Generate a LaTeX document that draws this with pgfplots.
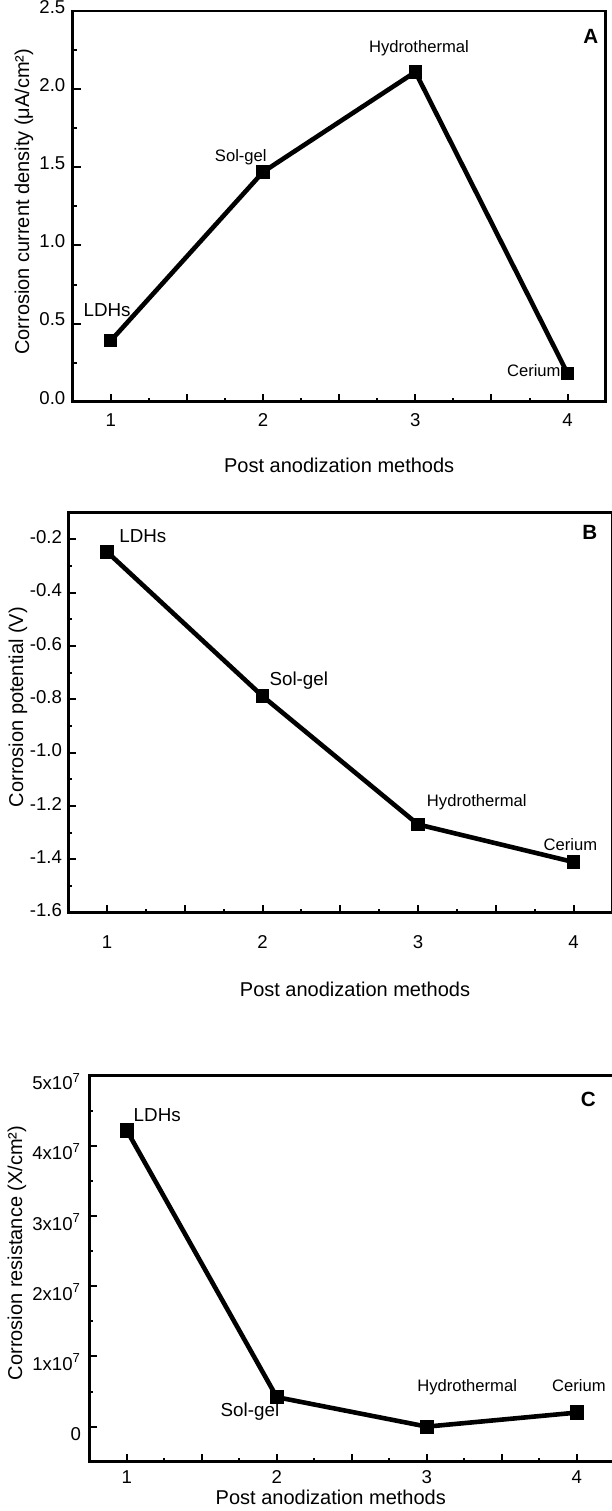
\documentclass[border=0pt]{standalone}
\usepackage{pgfplots}
\pgfplotsset{compat=1.18}
\usepackage{fontspec}
\setmainfont{Liberation Sans}
\newcommand{\lbig}{\fontsize{9.4}{11}\selectfont}
\newcommand{\lsml}{\fontsize{8.3}{10}\selectfont}
\begin{document}
\begin{tikzpicture}
\useasboundingbox (0,0) rectangle (305.5pt,-755.5pt);
\pgfplotsset{
  common/.style={
    scale only axis, clip=false,
    xmin=0.75, xmax=4.25,
    xtick={1,1.5,2,2.5,3,3.5,4}, xticklabels={1,,2,,3,,4},
    minor x tick num=1, minor y tick num=1,
    tick align=inside, xtick pos=left, ytick pos=left,
    major tick length=4pt, minor tick length=2pt,
    every tick/.style={black, line width=1pt},
    axis line style={line width=1.3pt},
    tick label style={font=\fontsize{9.3}{11}\selectfont, inner sep=0pt},
    label style={font=\fontsize{9.4}{11}\selectfont, inner sep=0pt},
    xticklabel style={anchor=base},
    yticklabel style={anchor=base east},
    scaled y ticks=false,
    /pgf/number format/assume math mode=true,
  },
  ser/.style={black, line width=2.3pt, mark=square*, mark size=3.1pt, mark options={line width=0pt}},
}
% ---------------- A ----------------
\begin{axis}[common,
  at={(36.35pt,-200.85pt)}, anchor=south west,
  width=266.5pt, height=195.35pt,
  ymin=0, ymax=2.5,
  ytick={0,0.5,1,1.5,2,2.5}, yticklabels={0.0,0.5,1.0,1.5,2.0,2.5},
  xticklabel style={yshift=-12.5pt},
  yticklabel style={xshift=-3.5pt, yshift=-1.2pt},
  every axis x label/.style={at={(axis description cs:0.5,-0.181)}, anchor=base},
  every axis y label/.style={at={(axis description cs:-0.0916,0.512)}, rotate=90, anchor=center},
  xlabel={Post anodization methods},
  ylabel={Corrosion current density (μA/cm²)},
]
\addplot[ser] coordinates {(1,0.39) (2,1.47) (3,2.11) (4,0.18)};
\node[font=\lbig] at (axis cs:0.976,0.587) {LDHs};
\node[font=\lsml] at (axis cs:1.854,1.567) {Sol-gel};
\node[font=\lsml] at (axis cs:3.024,2.265) {Hydrothermal};
\node[font=\lsml] at (axis cs:3.778,0.198) {Cerium};
\node[font=\fontsize{10.3}{12}\selectfont\bfseries] at (axis cs:4.152,2.335) {A};
\end{axis}
% ---------------- B ----------------
\begin{axis}[common,
  at={(34.1pt,-456.35pt)}, anchor=south west,
  width=272.1pt, height=200pt,
  ymin=-1.6, ymax=-0.1,
  ytick={-1.6,-1.4,-1.2,-1.0,-0.8,-0.6,-0.4,-0.2},
  yticklabels={-1.6,-1.4,-1.2,-1.0,-0.8,-0.6,-0.4,-0.2},
  xticklabel style={yshift=-17.8pt},
  yticklabel style={xshift=-2.9pt, yshift=-2pt},
  every axis x label/.style={at={(axis description cs:0.527,-0.21)}, anchor=base},
  every axis y label/.style={at={(axis description cs:-0.0922,0.514)}, rotate=90, anchor=center},
  xlabel={Post anodization methods},
  ylabel={Corrosion potential (V)},
]
\addplot[ser] coordinates {(1,-0.247) (2,-0.788) (3,-1.269) (4,-1.41)};
\node[font=\lbig] at (axis cs:1.23,-0.188) {LDHs};
\node[font=\lbig] at (axis cs:2.233,-0.731) {Sol-gel};
\node[font=\lsml] at (axis cs:3.378,-1.187) {Hydrothermal};
\node[font=\lsml] at (axis cs:3.98,-1.346) {Cerium};
\node[font=\fontsize{10.3}{12}\selectfont\bfseries] at (axis cs:4.105,-0.175) {B};
\end{axis}
% ---------------- C ----------------
\begin{axis}[common,
  at={(44.65pt,-730.85pt)}, anchor=south west,
  width=262.5pt, height=193pt,
  ymin=-0.5e7, ymax=5e7,
  ytick={0,1e7,2e7,3e7,4e7,5e7},
  yticklabels={0,1x10\textsuperscript{7},2x10\textsuperscript{7},3x10\textsuperscript{7},4x10\textsuperscript{7},5x10\textsuperscript{7}},
  xticklabel style={yshift=-11pt},
  yticklabel style={xshift=-4pt, yshift=-7pt},
  every axis x label/.style={at={(axis description cs:0.46,-0.112)}, anchor=base},
  every axis y label/.style={at={(axis description cs:-0.1377,0.541)}, rotate=90, anchor=center},
  xlabel={Post anodization methods},
  ylabel={Corrosion resistance (X/cm²)},
]
\addplot[ser, mark size=3.3pt] coordinates {(1,4.22e7) (2,0.42e7) (3,0.0) (4,0.2e7)};
\node[font=\lbig] at (axis cs:1.203,4.44e7) {LDHs};
\node[font=\lbig] at (axis cs:1.821,0.22e7) {Sol-gel};
\node[font=\lsml] at (axis cs:3.269,0.556e7) {Hydrothermal};
\node[font=\lsml] at (axis cs:4.014,0.584e7) {Cerium};
\node[font=\fontsize{10.3}{12}\selectfont\bfseries] at (axis cs:4.077,4.664e7) {C};
\end{axis}
\end{tikzpicture}
\end{document}
